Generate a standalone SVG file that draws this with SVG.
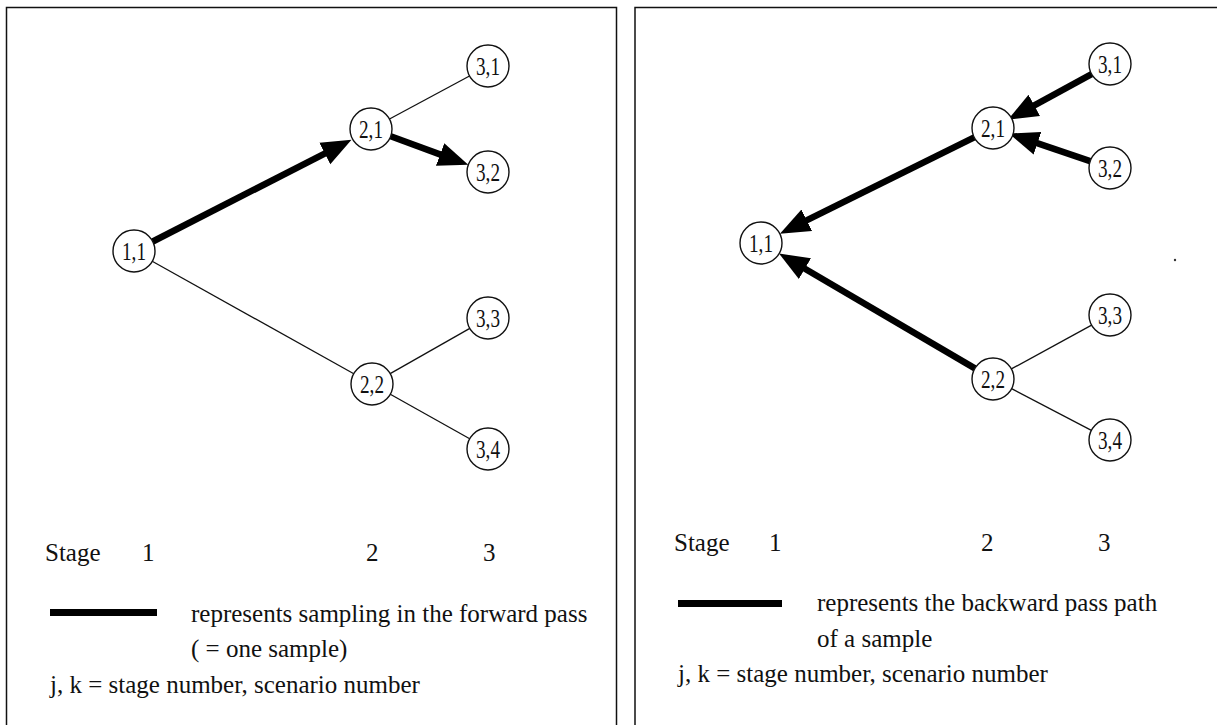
<svg xmlns="http://www.w3.org/2000/svg" width="1217" height="725" viewBox="0 0 1217 725">
<style>
.frame{fill:none;stroke:#111;stroke-width:1.5}
.node circle{fill:#fff;stroke:#111;stroke-width:1.4}
.node text{font-family:"Liberation Serif","Times New Roman",serif;font-size:26px;fill:#111;text-anchor:middle}
.thin{stroke:#111;stroke-width:1.3;fill:none}
.thick{stroke:#000;stroke-width:6.5;fill:none;marker-end:url(#ah)}
.lbl{font-family:"Liberation Serif","Times New Roman",serif;font-size:25px;fill:#111}
</style>
<defs>
<marker id="ah" markerUnits="userSpaceOnUse" viewBox="0 -13 32 26" markerWidth="32" markerHeight="26" refX="2" refY="0" orient="auto">
<path d="M0,-12 L30,0 L0,12 z" fill="#000"/>
</marker>
</defs>
<rect width="1217" height="725" fill="#fff"/>
<rect class="frame" x="6.5" y="7.5" width="610" height="730"/>
<rect class="frame" x="635" y="7.5" width="600" height="730"/>

<g id="connectors">
<line class="thick" x1="152.8" y1="241.5" x2="326.6" y2="152.6"/>
<line class="thick" x1="390.7" y1="136.2" x2="442.0" y2="155.1"/>
<line class="thin" x1="389.5" y1="119" x2="469.5" y2="76"/>
<line class="thin" x1="152.2" y1="261.2" x2="353.8" y2="373.8"/>
<line class="thin" x1="390.2" y1="373.6" x2="469.8" y2="328.4"/>
<line class="thin" x1="390.3" y1="394.3" x2="469.7" y2="438.7"/>

<line class="thick" x1="1091.6" y1="74.1" x2="1032.5" y2="106.3"/>
<line class="thick" x1="1090.1" y1="161.2" x2="1035.6" y2="142.6"/>
<line class="thick" x1="974.2" y1="137.3" x2="805.0" y2="221.2"/>
<line class="thick" x1="974.9" y1="368.4" x2="803.2" y2="267.7"/>
<line class="thin" x1="1011.4" y1="368.9" x2="1091.6" y2="325.1"/>
<line class="thin" x1="1011.6" y1="388.7" x2="1091.4" y2="430.3"/>
</g>

<g id="L-1-1" class="node"><circle cx="134" cy="251" r="21"/><text x="134" y="260" textLength="24" lengthAdjust="spacingAndGlyphs">1,1</text></g>
<g id="L-2-1" class="node"><circle cx="371" cy="129" r="21"/><text x="371" y="138" textLength="24" lengthAdjust="spacingAndGlyphs">2,1</text></g>
<g id="L-2-2" class="node"><circle cx="372" cy="384" r="21"/><text x="372" y="393" textLength="24" lengthAdjust="spacingAndGlyphs">2,2</text></g>
<g id="L-3-1" class="node"><circle cx="488" cy="66" r="21"/><text x="488" y="75" textLength="24" lengthAdjust="spacingAndGlyphs">3,1</text></g>
<g id="L-3-2" class="node"><circle cx="488" cy="172" r="21"/><text x="488" y="181" textLength="24" lengthAdjust="spacingAndGlyphs">3,2</text></g>
<g id="L-3-3" class="node"><circle cx="488" cy="318" r="21"/><text x="488" y="327" textLength="24" lengthAdjust="spacingAndGlyphs">3,3</text></g>
<g id="L-3-4" class="node"><circle cx="488" cy="449" r="21"/><text x="488" y="458" textLength="24" lengthAdjust="spacingAndGlyphs">3,4</text></g>

<g id="R-1-1" class="node"><circle cx="761" cy="243" r="21"/><text x="761" y="252" textLength="24" lengthAdjust="spacingAndGlyphs">1,1</text></g>
<g id="R-2-1" class="node"><circle cx="993" cy="128" r="21"/><text x="993" y="137" textLength="24" lengthAdjust="spacingAndGlyphs">2,1</text></g>
<g id="R-2-2" class="node"><circle cx="993" cy="379" r="21"/><text x="993" y="388" textLength="24" lengthAdjust="spacingAndGlyphs">2,2</text></g>
<g id="R-3-1" class="node"><circle cx="1110" cy="64" r="21"/><text x="1110" y="73" textLength="24" lengthAdjust="spacingAndGlyphs">3,1</text></g>
<g id="R-3-2" class="node"><circle cx="1110" cy="168" r="21"/><text x="1110" y="177" textLength="24" lengthAdjust="spacingAndGlyphs">3,2</text></g>
<g id="R-3-3" class="node"><circle cx="1110" cy="315" r="21"/><text x="1110" y="324" textLength="24" lengthAdjust="spacingAndGlyphs">3,3</text></g>
<g id="R-3-4" class="node"><circle cx="1110" cy="440" r="21"/><text x="1110" y="449" textLength="24" lengthAdjust="spacingAndGlyphs">3,4</text></g>

<g id="left-legend">
<text class="lbl" x="45" y="561">Stage</text>
<text class="lbl" x="142" y="561">1</text>
<text class="lbl" x="366" y="561">2</text>
<text class="lbl" x="483" y="561">3</text>
<rect x="50" y="609" width="107" height="7" fill="#000"/>
<text class="lbl" x="191" y="622">represents sampling in the forward pass</text>
<text class="lbl" x="191" y="657">( = one sample)</text>
<text class="lbl" x="50" y="693">j, k = stage number, scenario number</text>
</g>

<g id="right-legend">
<text class="lbl" x="674" y="551">Stage</text>
<text class="lbl" x="769" y="551">1</text>
<text class="lbl" x="981" y="551">2</text>
<text class="lbl" x="1098" y="551">3</text>
<rect x="678" y="600" width="104" height="7" fill="#000"/>
<text class="lbl" x="817" y="611">represents the backward pass path</text>
<text class="lbl" x="817" y="647">of a sample</text>
<text class="lbl" x="678" y="682">j, k = stage number, scenario number</text>
</g>
<circle cx="1175" cy="260" r="1.2" fill="#333"/>
</svg>
